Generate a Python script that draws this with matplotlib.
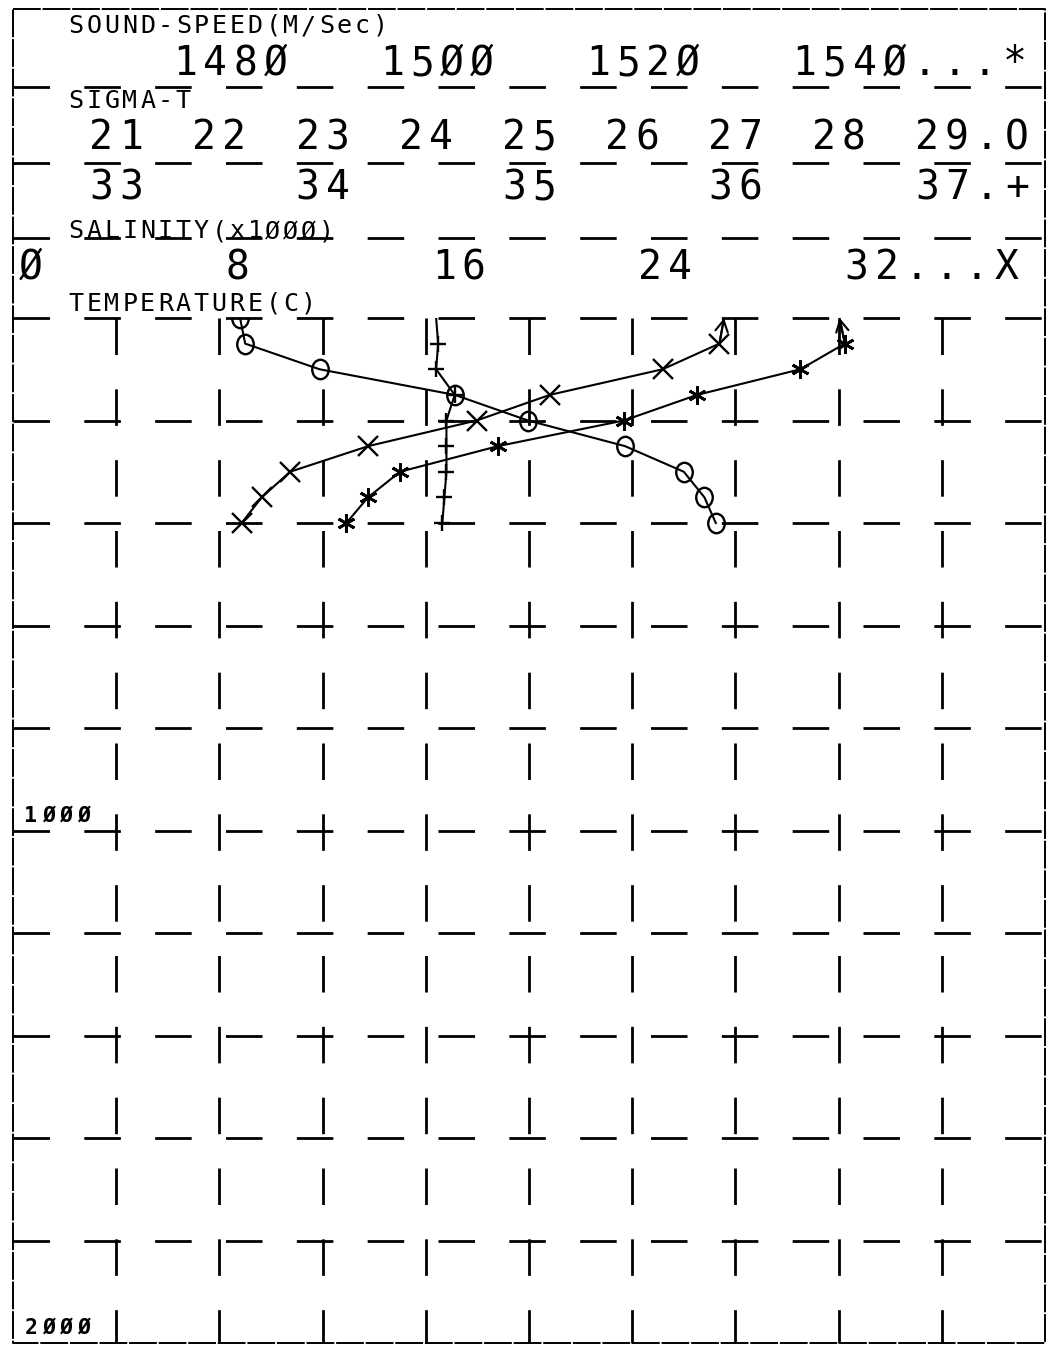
import numpy as np
import matplotlib
matplotlib.use('Agg')
import matplotlib.pyplot as plt
from matplotlib.transforms import blended_transform_factory, offset_copy, Affine2D
from matplotlib.markers import MarkerStyle

plt.rcParams['lines.scale_dashes'] = False

# profile data (depth in m)
depth = [0, 50, 100, 150, 200, 250, 300, 350, 400]
temperature = [27.56, 27.38, 25.18, 20.81, 17.97, 13.77, 10.74, 9.64, 8.86]
salinity = [34.55, 34.56, 34.55, 34.64, 34.60, 34.60, 34.60, 34.59, 34.58]
sigma_t = [22.20, 22.25, 22.97, 24.28, 24.99, 25.93, 26.50, 26.70, 26.81]
sound_speed = [1540.1, 1540.6, 1536.3, 1526.3, 1519.2, 1507.0, 1497.5, 1494.4, 1492.3]

# axis labels
sound_ticks = [1480, 1500, 1520, 1540]
sound_labels = ['148Ø', '15ØØ', '152Ø', '154Ø...*']
sigma_ticks = [21, 22, 23, 24, 25, 26, 27, 28, 29]
sigma_labels = ['21', '22', '23', '24', '25', '26', '27', '28', '29.O']
sal_ticks = [33, 34, 35, 36, 37]
sal_labels = ['33', '34', '35', '36', '37.+']
temp_ticks = [0, 8, 16, 24, 32]
temp_labels = ['Ø', '8', '16', '24', '32...X']
depth_ticks = [1000, 2000]
depth_labels = ['1ØØØ', '2ØØØ']

W, H = 1051, 1345
fig = plt.figure(figsize=(W / 100, H / 100), dpi=100)

# overlay in pixel units for frame / header
ov = fig.add_axes([0, 0, 1, 1])
ov.set_xlim(0, W)
ov.set_ylim(H, 0)
ov.set_axis_off()

L, R, T, B = 13, 1045, 318, 1343
rect = [L / W, 1 - B / H, (R - L) / W, (B - T) / H]
ax = fig.add_axes(rect)
ax.set_xlim(0, 40)
ax.set_ylim(2000, 0)
ax.set_axis_off()
ax_sal = ax.twiny()
ax_sal.set_xlim(32.5, 37.5)
ax_sig = ax.twiny()
ax_sig.set_xlim(20, 30)
ax_snd = ax.twiny()
ax_snd.set_xlim(1460, 1560)
for a in (ax_sal, ax_sig, ax_snd):
    a.set_axis_off()

dash = (0, (26.3, 24.7))
gkw = dict(color='black', lw=2.0, linestyle=dash, clip_on=False)

# frame and header row lines
ov.plot([L, R, R, L, L], [9, 9, B, B, 9], color='black', lw=1.4,
        linestyle=(0, (20, 1.3)))
for yy in [87, 163, 238]:
    ov.plot([L, R], [yy, yy], **gkw)

# grid
for d in np.arange(0, 2000, 200):
    ax.plot([0, 40], [d, d], **gkw)
for t in np.arange(4, 40, 4):
    ax.plot([t, t], [0, 2000], **gkw)


def ptext(s, x, y, trans, size, pitch, dx=0.0, dy=0.0, weight='normal'):
    for i, ch in enumerate(s):
        tr = offset_copy(trans, fig=fig, x=dx + (i + 0.5) * pitch, y=dy, units='dots')
        ov.text(x, y, ch, transform=tr, ha='center', va='baseline',
                fontsize=size, family='DejaVu Sans Mono', fontweight=weight)


# titles
for s, yb in [('SOUND-SPEED(M/Sec)', 33), ('SIGMA-T', 108),
              ('SALINITY(x1ØØØ)', 238.5), ('TEMPERATURE(C)', 311)]:
    ptext(s, 67, yb, ov.transData, 18, 17.9)

BIG, P = 28.5, 30
for v, s in zip(sound_ticks, sound_labels):
    tr = blended_transform_factory(ax_snd.transData, ov.transData)
    ptext(s, v, 75, tr, BIG, P, dx=11 - 2 * P)
for v, s in zip(sigma_ticks, sigma_labels):
    tr = blended_transform_factory(ax_sig.transData, ov.transData)
    ptext(s, v, 149, tr, BIG, P, dx=-P)
for v, s in zip(sal_ticks, sal_labels):
    tr = blended_transform_factory(ax_sal.transData, ov.transData)
    ptext(s, v, 199, tr, BIG, P, dx=-P)
for v, s in zip(temp_ticks, temp_labels):
    tr = blended_transform_factory(ax.transData, ov.transData)
    ptext(s, v, 279, tr, BIG, P, dx=3)
for v, s in zip(depth_ticks, depth_labels):
    tr = blended_transform_factory(ov.transData, ax.transData)
    ptext(s, 22, v, tr, 15.5, 17.5, dy=9, weight='bold')

# profiles
mk_rest = range(1, len(depth))
ax.plot(temperature, depth, color='black', lw=1.5, marker='x', ms=15, mew=1.7,
        markevery=mk_rest)
ax_snd.plot(sound_speed, depth, color='black', lw=1.5, marker=(6, 2, 0), ms=13,
            mew=2.0, markevery=mk_rest)
ax_sal.plot(salinity, depth, color='black', lw=1.5, marker='+', ms=12, mew=1.7,
            markevery=mk_rest)
oval = MarkerStyle('o', fillstyle='none', transform=Affine2D().scale(0.85, 1.0))
ax_sig.plot(sigma_t, depth, color='black', lw=1.5, marker=oval, ms=14, mew=1.7)

arrow = dict(arrowstyle='->,head_length=0.55,head_width=0.3', lw=1.5,
             shrinkA=0, shrinkB=0, mutation_scale=15, color='black')
ax.annotate('', xy=(temperature[0], depth[0]), xytext=(temperature[1], depth[1]),
            arrowprops=arrow, annotation_clip=False)
ax_snd.annotate('', xy=(sound_speed[0], depth[0]), xytext=(sound_speed[1], depth[1]),
                arrowprops=arrow, annotation_clip=False)

fig.savefig('out.png', dpi=100, facecolor='white')
